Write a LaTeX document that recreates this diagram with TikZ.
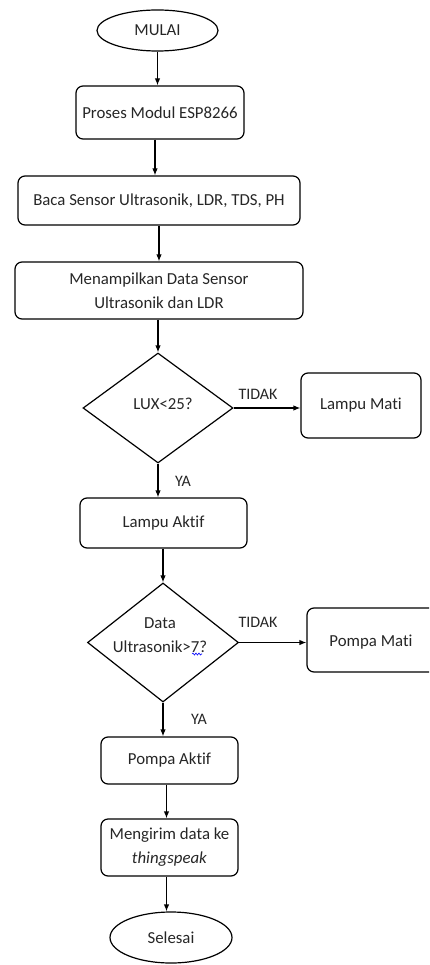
\documentclass[tikz,border=0pt]{standalone}
\usepackage{fontspec}
\setmainfont[Ligatures=NoCommon]{Carlito}
\usetikzlibrary{shapes.geometric,arrows.meta,decorations.pathmorphing}
\begin{document}
\begin{tikzpicture}[x=1pt,y=-1pt,
  every node/.style={font=\fontsize{16.8}{24}\selectfont, text=black!85, align=center, inner sep=0pt},
  proc/.style={draw=black, line width=1.2pt, rounded corners=7pt, rectangle},
  term/.style={draw=black, line width=1.2pt, ellipse},
  dec/.style={draw=black, line width=1.2pt, diamond},
  arr/.style={draw=black, line width=1.2pt, -{Latex[length=7pt,width=5.5pt]}},
  lbl/.style={font=\fontsize{16}{18}\selectfont}]
\useasboundingbox (0,0) rectangle (429,965);
\clip (0,0) rectangle (429,965);
\node[term, minimum width=121pt, minimum height=41pt] (start) at (157.5,30.5) {MULAI};
\node[proc, minimum width=168pt, minimum height=53pt] (p1) at (160,112.5) {Proses Modul ESP8266};
\node[proc, minimum width=282pt, minimum height=49pt] (p2) at (159,200.5) {Baca Sensor Ultrasonik, LDR, TDS, PH};
\node[proc, minimum width=288pt, minimum height=57pt] (p3) at (159,290.5) {Menampilkan Data Sensor\\Ultrasonik dan LDR};
\node[dec, minimum width=150pt, minimum height=110pt] (d1) at (158,408) {};
\node at (163,404) {LUX<25?};
\node[proc, minimum width=120pt, minimum height=65pt] (lm) at (361,405.5) {Lampu Mati};
\node[proc, minimum width=167pt, minimum height=50pt] (la) at (163.5,523) {Lampu Aktif};
\node[dec, minimum width=151pt, minimum height=119pt] (d2) at (163,642.5) {};
\node (d2t) at (160,635.5) {Data\\Ultrasonik>7?};
\node[proc, minimum width=135pt, minimum height=64pt] (pm) at (374.5,640) {};
\node at (371,642) {Pompa Mati};
\node[proc, minimum width=137pt, minimum height=47pt] (pa) at (169.5,760.5) {Pompa Aktif};
\node[proc, minimum width=137pt, minimum height=57pt] (ms) at (169.5,847.5) {Mengirim data ke\\\textit{thingspeak}};
\node[term, minimum width=122pt, minimum height=51pt] (end) at (171,937.5) {Selesai};
\draw[arr] (start) -- (start |- p1.north);
\draw[arr] ([xshift=-5pt]p1.south) -- ([xshift=-5pt]p1.south |- p2.north);
\draw[arr] (p2) -- (p2 |- p3.north);
\draw[arr] (p3.south -| d1.north) -- (d1.north);
\draw[arr] (d1.east) -- (d1.east -| lm.west);
\draw[arr] (d1.south) -- (d1.south |- la.north);
\draw[arr] (la.south -| d2.north) -- (d2.north);
\draw[arr] (d2.east) -- (d2.east -| pm.west);
\draw[arr] (d2.south) -- (d2.south |- pa.north);
\draw[arr] ([xshift=-3pt]pa.south) -- ([xshift=-3pt]pa.south |- ms.north);
\draw[arr] ([xshift=-3pt]ms.south) -- ([xshift=-3pt]ms.south |- end.north);
\node[lbl] (t1) at (258,394) {TIDAK};
\node[lbl] (y1) at (183,481) {YA};
\node[lbl] (t2) at (258,622) {TIDAK};
\node[lbl] (y2) at (199,719) {YA};
\coordinate (sq1) at (192,654);
\coordinate (sq2) at (202,654);
\draw[blue, line width=0.6pt, decorate, decoration={snake, segment length=3pt, amplitude=1pt}] (sq1) -- (sq2);
\end{tikzpicture}
\end{document}
